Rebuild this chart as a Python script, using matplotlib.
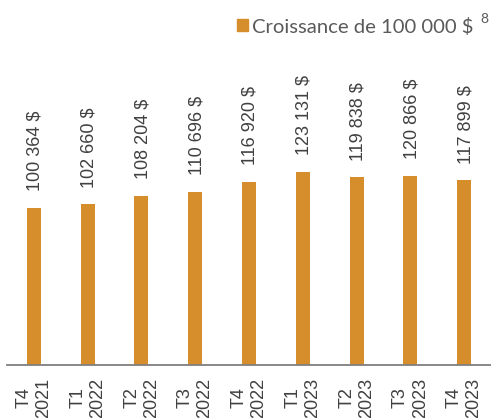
import matplotlib
matplotlib.use('Agg')
import matplotlib.pyplot as plt
from matplotlib.patches import Rectangle

# données
trimestres = ['T4\n2021', 'T1\n2022', 'T2\n2022', 'T3\n2022', 'T4\n2022',
              'T1\n2023', 'T2\n2023', 'T3\n2023', 'T4\n2023']
valeurs = [100364, 102660, 108204, 110696, 116920, 123131, 119838, 120866, 117899]
etiquettes = ['100 364 $', '102 660 $', '108 204 $', '110 696 $', '116 920 $',
              '123 131 $', '119 838 $', '120 866 $', '117 899 $']
legende = 'Croissance de 100 000 $'

couleur = '#D68D2B'
gris_texte = '#404040'

fig = plt.figure(figsize=(4.91, 4.18), dpi=100)
ax = fig.add_axes([7 / 491, 53 / 418, 484 / 491, 325 / 418])

x = list(range(len(valeurs)))
ax.bar(x, valeurs, width=0.26, color=couleur, zorder=2)

for xi, v, lab in zip(x, valeurs, etiquettes):
    ax.annotate(lab, (xi, v), xytext=(1, 12), textcoords='offset points',
                rotation=90, ha='center', va='bottom', fontsize=13,
                family='Liberation Sans', color=gris_texte)

ax.set_xlim(-0.5, 8.5)
ax.set_ylim(0, 207500)
ax.set_xticks(x)
ax.set_xticklabels(trimestres, rotation=90, fontsize=13,
                   family='Liberation Sans', color=gris_texte)
ax.tick_params(axis='x', length=0, pad=9)
ax.set_yticks([])
for s in ['top', 'right', 'left']:
    ax.spines[s].set_visible(False)
ax.spines['bottom'].set_color('#7f7f7f')
ax.spines['bottom'].set_linewidth(1.3)

# légende
fig.patches.append(Rectangle((237 / 491, 1 - 31 / 418), 11 / 491, 12 / 418,
                             transform=fig.transFigure, color=couleur, figure=fig))
fig.text(252 / 491, 1 - 33 / 418, legende, fontsize=14.6, family='Lato',
         color='#5a5a5a', va='baseline', ha='left')
fig.text(480 / 491, 1 - 23 / 418, '8', fontsize=10, family='Lato',
         color='#5a5a5a', va='baseline', ha='left')

fig.savefig('out.png', dpi=100)
